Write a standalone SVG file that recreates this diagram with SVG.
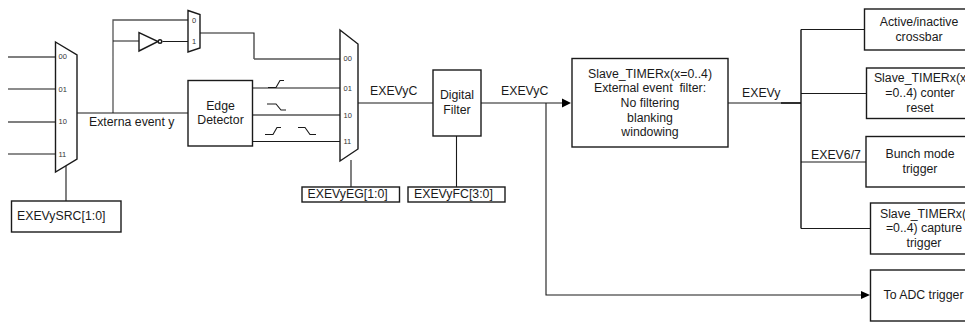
<svg xmlns="http://www.w3.org/2000/svg" width="965" height="322" viewBox="0 0 965 322">
<style>
text{font-family:"Liberation Sans",Arial,sans-serif;font-size:12.300px;fill:#1a1a1a}
.m{text-anchor:middle}
text.p{font-size:7.500px;fill:#333}
.b{fill:#fff;stroke:#1a1a1a;stroke-width:1.400}
.c{fill:none;stroke:#1a1a1a;stroke-width:1.100}
.g{fill:none;stroke:#555;stroke-width:1.300}
.h{fill:#000}
</style>
<g id="connectors">
<path class="g" d="M8 57H55M8 122H55M113 113V20H188"/>
<path class="c" d="M8 89H55M8 154H55M77 113H188M113 41H139M162.500 41.500H188M200 33H254V59"/>
<path class="g" d="M254 59H340M252 115H340"/>
<path class="c" d="M252 88H340M252 141.500H340M66 166V201M351 160V187M456.500 136V187M358 103H433M481 103H563M546 103V295H862M728 103H801M801 29.500H864M801 93.500H866M801 162H866M801 228.500H870"/>
<path d="M781 103H801M801 29.500V228.500" fill="none" stroke="#111" stroke-width="1.400"/>
<path class="h" d="M562 98.500L571 103L562 107.500Z"/>
<path class="h" d="M861 291L870 295L861 299Z"/>
<path class="c" d="M268 87.500h8l4-7h4M267 104h9l5 6h5M265 134.500h8l4-7h4M298 127.500h7l5 7h6"/>
</g>
<g id="mux-source"><path class="b" d="M55.500 42L77 55V159L55.500 172Z"/><text class="p" x="58.500" y="59">00</text><text class="p" x="58.500" y="91.500">01</text><text class="p" x="58.500" y="124">10</text><text class="p" x="58.500" y="156.500">11</text></g>
<g id="mux-polarity"><path class="b" d="M188 10.500L200 14.500V48L188 52Z"/><text class="p" x="192" y="22.500">0</text><text class="p" x="192" y="44">1</text></g>
<g id="inverter"><path class="b" d="M139 32.500V51L158 41.500Z"/><circle class="b" cx="160" cy="41.500" r="1.800"/></g>
<g id="mux-edge"><path class="b" d="M340 30L358 44V149L340 161Z"/><text class="p" x="343.500" y="61">00</text><text class="p" x="343.500" y="90.500">01</text><text class="p" x="343.500" y="117.500">10</text><text class="p" x="343.500" y="144">11</text></g>
<g id="edge-detector"><rect class="b" x="188" y="80.500" width="64.500" height="65.500"/><text class="m" x="220.500" y="110">Edge</text><text class="m" x="220.500" y="124">Detector</text></g>
<g id="src-select"><rect class="b" x="11.500" y="201" width="109.500" height="31"/><text x="17" y="220">EXEVySRC[1:0]</text></g>
<g id="eg-select"><rect class="b" x="302" y="187" width="97.500" height="15"/><text x="307.500" y="198">EXEVyEG[1:0]</text></g>
<g id="fc-select"><rect class="b" x="408" y="187" width="97" height="15"/><text x="414" y="198">EXEVyFC[3:0]</text></g>
<g id="digital-filter"><rect class="b" x="433" y="70" width="48" height="66"/><text class="m" x="457" y="99">Digital</text><text class="m" x="457" y="114">Filter</text></g>
<g id="slave-filter"><rect class="b" x="572" y="58.500" width="156" height="88.500"/><text class="m" x="650" y="78">Slave_TIMERx(x=0..4)</text><text class="m" x="650" y="92">External event&#160; filter:</text><text class="m" x="650" y="107">No filtering</text><text class="m" x="650" y="121.500">blanking</text><text class="m" x="650" y="136">windowing</text></g>
<g id="crossbar"><rect class="b" x="864.500" y="9" width="105" height="41"/><text class="m" x="919" y="26">Active/inactive</text><text class="m" x="919" y="41">crossbar</text></g>
<g id="counter-reset"><rect class="b" x="866.500" y="68" width="105" height="50.500"/><text class="m" x="920" y="82">Slave_TIMERx(x</text><text class="m" x="920" y="97">=0..4) conter</text><text class="m" x="920" y="112">reset</text></g>
<g id="bunch-mode"><rect class="b" x="866" y="136.500" width="105" height="50.500"/><text class="m" x="920" y="158">Bunch mode</text><text class="m" x="920" y="173">trigger</text></g>
<g id="capture-trigger"><rect class="b" x="870.500" y="203" width="105" height="51"/><text class="m" x="923" y="218">Slave_TIMERx(</text><text class="m" x="924" y="232">=0..4) capture</text><text class="m" x="924" y="247">trigger</text></g>
<g id="adc-trigger"><rect class="b" x="870.500" y="270" width="105" height="51"/><text class="m" x="923.500" y="299">To ADC trigger</text></g>
<g id="labels"><text x="89" y="126">Externa event y</text><text x="370" y="95">EXEVyC</text><text x="501" y="95">EXEVyC</text><text x="742" y="97">EXEVy</text><text x="811" y="159">EXEV6/7</text></g>
</svg>
